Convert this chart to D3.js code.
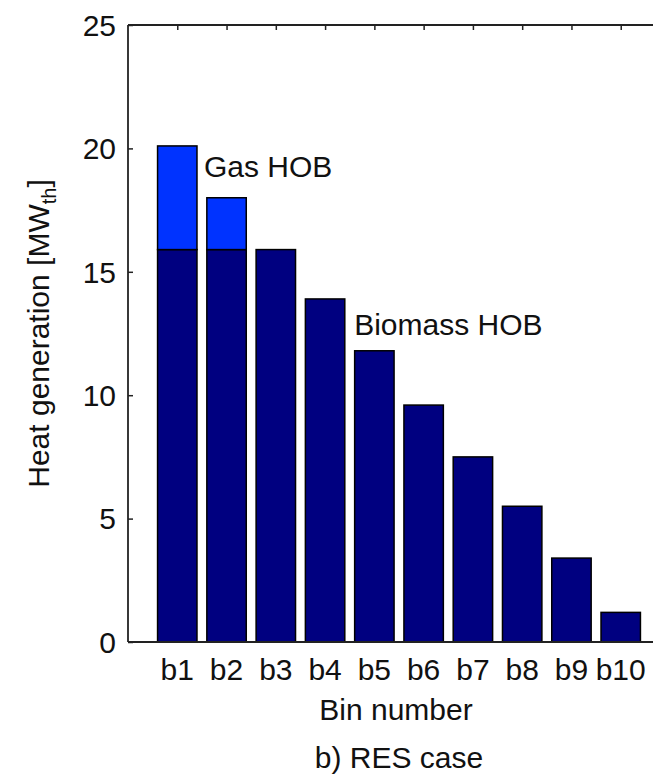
<!DOCTYPE html>
<html>
<head>
<meta charset="utf-8">
<script src="https://cdn.jsdelivr.net/npm/d3@7"></script>
<style>
  html, body { margin: 0; padding: 0; background: #fff; }
  svg { display: block; }
  text { font-family: "Liberation Sans", Arial, sans-serif; fill: #111; }
</style>
</head>
<body>
<svg id="chart" width="653" height="777"></svg>
<script>
// ---- data ----
const bins = ["b1", "b2", "b3", "b4", "b5", "b6", "b7", "b8", "b9", "b10"];
const biomassHOB = [15.9, 15.9, 15.9, 13.9, 11.8, 9.6, 7.5, 5.5, 3.4, 1.2];
const gasHOB = [4.2, 2.1, 0, 0, 0, 0, 0, 0, 0, 0];
const yTicks = [0, 5, 10, 15, 20, 25];
const seriesNames = ["Biomass HOB", "Gas HOB"];
const yLabel = "Heat generation [MW";
const yLabelSub = "th";
const xLabel = "Bin number";
const caption = "b) RES case";

(function () {
// ---- layout ----
const svg = d3.select("#chart");
const pl = 128, pr = 670, pt = 25, pb = 642;
const fontSize = 30;

const x = d3.scaleLinear().domain([0, bins.length + 1]).range([pl, pr]);
const y = d3.scaleLinear().domain([0, 25]).range([pb, pt]);
const step = x(1) - x(0);
const barW = step * 0.8;

const colors = { biomass: "#000080", gas: "#0033ff" };

// stacked data
const stackData = bins.map((b, i) => ({ bin: b, i: i + 1, biomass: biomassHOB[i], gas: gasHOB[i] }));
const stack = d3.stack().keys(["biomass", "gas"])(stackData);

const g = svg.append("g");
stack.forEach(layer => {
  g.selectAll(null)
    .data(layer.filter(d => d[1] - d[0] > 0))
    .enter().append("rect")
    .attr("x", d => x(d.data.i) - barW / 2)
    .attr("width", barW)
    .attr("y", d => y(d[1]))
    .attr("height", d => y(d[0]) - y(d[1]))
    .attr("fill", colors[layer.key])
    .attr("stroke", "#000")
    .attr("stroke-width", 1.5);
});

const axisColor = "#222";
// left axis ticks
const yAxis = d3.axisRight(y).tickValues(yTicks).tickSize(5).tickFormat("");
const ya = svg.append("g").attr("transform", `translate(${pl},0)`).call(yAxis);
ya.select(".domain").remove();
ya.selectAll("line").attr("stroke", axisColor).attr("stroke-width", 1.5);
svg.append("line").attr("x1", pl).attr("x2", pl).attr("y1", pt).attr("y2", pb)
  .attr("stroke", axisColor).attr("stroke-width", 1.8);
// y tick labels
svg.selectAll(".ylab").data(yTicks).enter().append("text")
  .attr("x", pl - 12).attr("y", d => y(d))
  .attr("dy", "0.36em").attr("text-anchor", "end")
  .attr("font-size", fontSize).text(d => d);

// bottom axis line
const binIdx = bins.map((b, i) => i + 1);
svg.append("line").attr("x1", pl).attr("x2", pr).attr("y1", pb).attr("y2", pb)
  .attr("stroke", axisColor).attr("stroke-width", 1.8);
// top axis with ticks
svg.append("line").attr("x1", pl).attr("x2", pr).attr("y1", pt).attr("y2", pt)
  .attr("stroke", axisColor).attr("stroke-width", 1.8);
const topAxis = d3.axisBottom(x).tickValues(binIdx).tickSize(5).tickFormat("");
const ta = svg.append("g").attr("transform", `translate(0,${pt})`).call(topAxis);
ta.select(".domain").remove();
ta.selectAll("line").attr("stroke", axisColor).attr("stroke-width", 1.5);

// x tick labels
svg.selectAll(".xlab").data(bins).enter().append("text")
  .attr("x", (d, i) => x(i + 1)).attr("y", 680)
  .attr("text-anchor", "middle").attr("font-size", fontSize).text(d => d);

// x label
svg.append("text").attr("x", (pl + pr) / 2 - 3).attr("y", 720)
  .attr("text-anchor", "middle").attr("font-size", fontSize).text(xLabel);
// caption
svg.append("text").attr("x", (pl + pr) / 2).attr("y", 768)
  .attr("text-anchor", "middle").attr("font-size", fontSize).text(caption);

// y label
const yl = svg.append("text")
  .attr("transform", `translate(49,${(pt + pb) / 2}) rotate(-90)`)
  .attr("text-anchor", "middle").attr("font-size", fontSize);
yl.append("tspan").text(yLabel);
yl.append("tspan").attr("font-size", 20).attr("dy", 7).text(yLabelSub);
yl.append("tspan").attr("dy", -7).text("]");

// annotations (placed in data coordinates)
svg.append("text").attr("x", x(1.54)).attr("y", y(18.84))
  .attr("font-size", fontSize).text(seriesNames[1]);
svg.append("text").attr("x", x(4.59)).attr("y", y(12.43))
  .attr("font-size", fontSize).text(seriesNames[0]);
})();
</script>
</body>
</html>
